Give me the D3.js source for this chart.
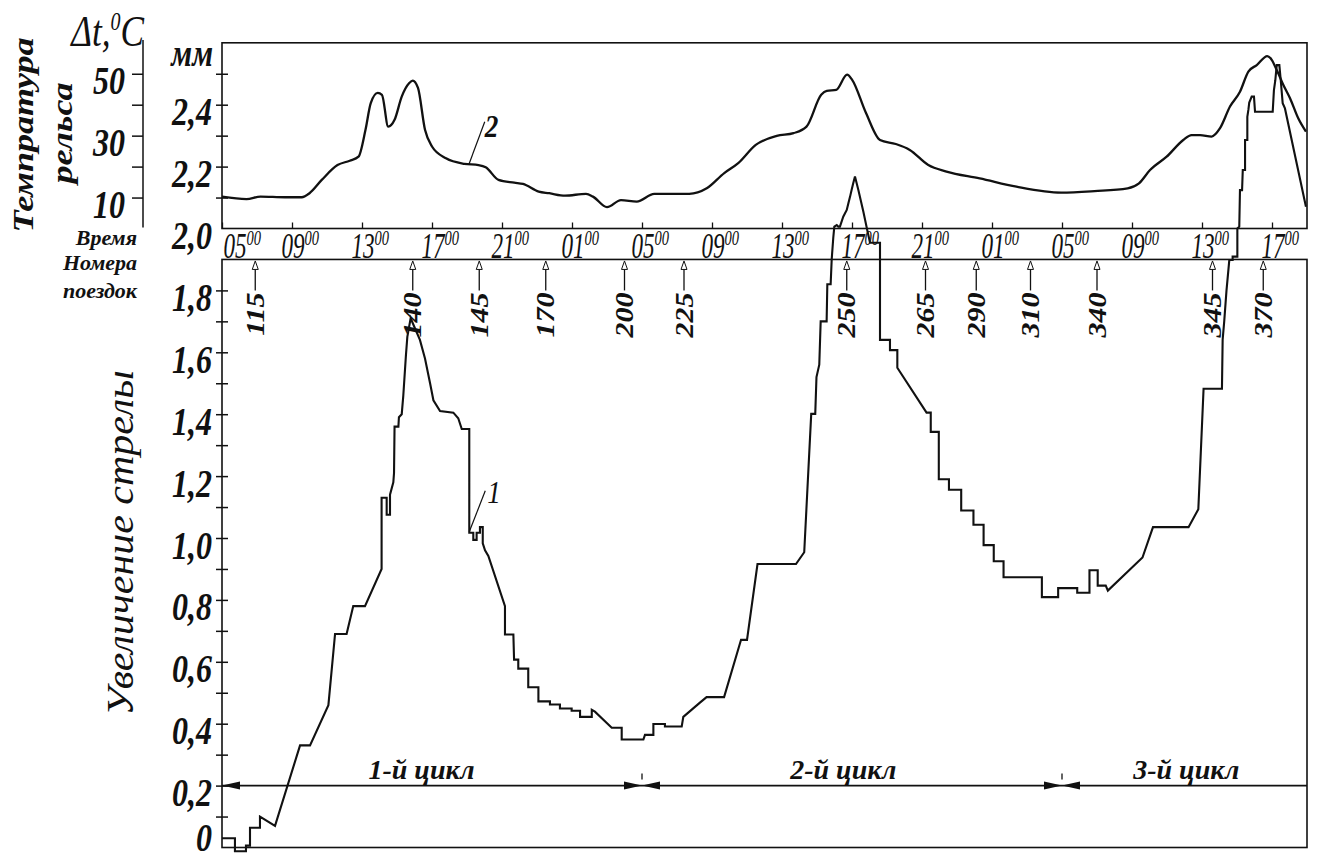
<!DOCTYPE html>
<html><head><meta charset="utf-8">
<script src="https://cdn.jsdelivr.net/npm/d3@7"></script>
<style>
body{margin:0;background:#fff;}
svg, svg text, svg tspan{font-family:"Liberation Serif","Tinos","Times New Roman","Nimbus Roman","DejaVu Serif",serif !important;font-style:italic;}
svg text{fill:#111;}
</style></head><body>
<svg id="chart" width="1319" height="863" font-family="Liberation Serif, serif"></svg>
<script>
// ---------- DATA ----------
const timeTickHours = [0,4,8,12,16,20,24,28,32,36,40,44,48,52,56,60];
const timeTickLabels = ["05","09","13","17","21","01","05","09","13","17","21","01","05","09","13","17"];
const mmTickValues = [0.1,0.2,0.3,0.4,0.5,0.6,0.7,0.8,0.9,1.0,1.1,1.2,1.3,1.4,1.5,1.6,1.7,1.8,2.1,2.2,2.3,2.4,2.5];
const mmLabelValues = [0,0.2,0.4,0.6,0.8,1.0,1.2,1.4,1.6,1.8,2.0,2.2,2.4];
const tempTickValues = [10,20,30,40,50];
const tempLabelValues = [10,30,50];
const trainNumbers = [115,140,145,170,200,225,250,265,290,310,340,345,370];
const trainHours = [1.9,10.9,14.7,18.5,23.0,26.4,35.7,40.2,43.1,46.2,50.0,56.6,59.5];
const cycleNames = ["1-й цикл","2-й цикл","3-й цикл"];
const cycleBounds = [0,24,48,62];
const cycleLabelHours = [11.4,35.5,55.1];

// curve 2: rail temperature, °C
const tempHours = [0,1.4,2.2,3.6,4.56,5.0,5.7,6.6,7.3,7.8,8.2,8.5,8.9,9.14,9.5,9.86,10.27,10.7,10.9,11.2,11.6,12.0,12.8,13.85,14.66,15.07,15.8,16.7,17.2,18.1,18.7,19.6,20.8,21.2,22.0,22.8,23.7,24.7,25.7,26.7,27.7,28.7,29.5,30.5,31.7,32.66,33.4,34.24,34.56,35.1,35.72,36.0,36.8,37.6,38.5,39.3,40.36,41.4,43.3,45.4,47.96,49.86,51.75,52.4,53.03,53.98,54.93,55.4,55.89,56.55,57.03,57.6,58.17,58.65,59.13,59.73,59.92,60.27,60.65,61.03,61.5,61.94];
const tempValues = [10.3,9.5,10.3,10.1,10.1,11.4,15.7,20.5,21.9,23.2,31.9,40.5,43.8,43.2,32.9,35.1,42.6,47.0,47.8,45.4,31.9,26.5,22.7,20.9,20.5,19.8,15.7,14.8,14.4,11.9,11.4,10.6,11.2,10.3,6.9,9.2,8.7,11.2,11.2,11.2,13.0,17.9,21.1,27.0,29.9,30.8,32.9,43.2,44.5,44.8,49.7,48.1,37.3,28.6,27.3,25.4,20.5,18.4,16.2,13.5,11.6,12.1,13.0,14.6,18.9,23.2,28.6,30.2,30.2,29.7,32.4,39.4,44.2,50.7,52.8,55.7,55.0,51.2,46.4,42.1,35.6,31.3];

// curve 1: increase of the versine, mm
const strelaHours = [0.00,0.74,0.74,1.37,1.37,1.60,1.60,2.17,2.17,3.03,4.46,5.03,6.08,6.46,7.12,7.50,8.17,9.12,9.12,9.41,9.41,9.60,9.60,9.79,9.83,9.86,10.08,10.11,10.27,10.36,10.51,10.59,10.78,11.31,11.60,11.89,12.08,12.46,13.22,13.50,13.70,14.13,14.13,14.36,14.36,14.55,14.55,14.74,14.74,14.90,14.90,15.03,15.22,16.17,16.17,16.65,16.69,16.93,16.93,17.50,17.50,18.08,18.08,18.74,18.74,19.31,19.31,19.98,19.98,20.46,20.46,21.13,21.13,21.31,22.27,22.84,22.84,24.08,24.17,24.65,24.65,25.31,25.31,26.27,26.36,27.31,27.69,28.69,29.66,30.00,30.60,32.80,33.27,33.67,33.90,33.97,34.13,34.21,34.55,34.59,34.78,34.84,34.93,34.99,35.13,35.22,35.31,35.50,35.70,35.79,35.89,35.98,36.07,36.17,36.36,36.65,36.87,37.03,37.60,37.60,38.17,38.17,38.59,38.59,40.26,40.50,40.50,40.96,40.96,41.54,41.54,42.24,42.24,42.94,42.94,43.52,43.52,44.10,44.10,44.66,44.66,46.85,46.85,47.78,47.78,48.87,48.87,49.57,49.57,50.04,50.04,50.50,50.62,52.60,53.20,55.23,55.79,56.09,57.14,57.18,57.27,57.40,57.56,57.75,57.75,58.02,58.02,58.13,58.17,58.29,58.33,58.46,58.46,58.59,58.59,58.65,58.70,58.84,58.97,59.03,60.04,60.11,60.19,60.27,60.42,60.50,60.61,60.74,61.94];
const strelaValues = [0.03,0.03,-0.012,-0.012,0.006,0.006,0.064,0.064,0.10,0.07,0.33,0.33,0.46,0.69,0.69,0.78,0.78,0.90,1.13,1.13,1.075,1.075,1.14,1.18,1.21,1.36,1.36,1.39,1.40,1.46,1.59,1.65,1.71,1.64,1.58,1.50,1.445,1.41,1.405,1.387,1.352,1.352,1.017,1.017,0.994,0.994,1.017,1.017,1.035,1.035,0.983,0.96,0.942,0.78,0.688,0.688,0.607,0.607,0.578,0.578,0.518,0.518,0.472,0.472,0.462,0.462,0.449,0.449,0.442,0.442,0.422,0.422,0.445,0.439,0.387,0.387,0.349,0.349,0.364,0.364,0.399,0.399,0.391,0.391,0.422,0.468,0.486,0.486,0.671,0.671,0.916,0.916,0.954,1.401,1.401,1.52,1.56,1.70,1.70,1.82,1.82,1.90,1.97,2.006,2.011,2.006,2.006,2.038,2.06,2.081,2.103,2.125,2.146,2.168,2.125,2.054,1.995,1.954,1.954,1.64,1.64,1.607,1.607,1.55,1.405,1.405,1.343,1.343,1.19,1.19,1.156,1.156,1.089,1.089,1.043,1.043,0.977,0.977,0.925,0.925,0.873,0.873,0.809,0.809,0.838,0.838,0.823,0.823,0.896,0.896,0.846,0.846,0.83,0.937,1.035,1.035,1.093,1.482,1.482,1.641,1.70,1.80,1.898,1.898,1.909,1.909,2.0,2.006,2.124,2.124,2.189,2.189,2.286,2.286,2.361,2.383,2.407,2.426,2.426,2.377,2.377,2.447,2.479,2.528,2.528,2.479,2.405,2.388,2.07];

// ---------- SCALES ----------
const svg = d3.select("#chart");
const x = d3.scaleLinear().domain([0, 62]).range([222, 1307]);
const y = d3.scaleLinear().domain([0, 2.6]).range([847.5, 42.8]);
const yT = d3.scaleLinear().domain([0, 60]).range([y(2.0), y(2.6)]);
const INK = "#111";
const SERIF = '"Liberation Serif","Tinos","Times New Roman","Nimbus Roman","DejaVu Serif",serif';

// ---------- FRAMES ----------
svg.append("rect").attr("x", x(0)).attr("y", y(2.6)).attr("width", x(62) - x(0)).attr("height", y(2.0) - y(2.6))
  .attr("fill", "none").attr("stroke", INK).attr("stroke-width", 1.6);
svg.append("rect").attr("x", x(0)).attr("y", y(1.9)).attr("width", x(62) - x(0)).attr("height", y(0) - y(1.9))
  .attr("fill", "none").attr("stroke", INK).attr("stroke-width", 1.6);

// ---------- CURVES ----------
const tempData = tempHours.map((h, i) => [h, tempValues[i]]);
svg.append("path").datum(tempData)
  .attr("fill", "none").attr("stroke", INK).attr("stroke-width", 2.3).attr("stroke-linejoin", "round")
  .attr("d", d3.line().x(d => x(d[0])).y(d => yT(d[1])).curve(d3.curveMonotoneX));

const strelaData = strelaHours.map((h, i) => [h, strelaValues[i]]);
svg.append("path").datum(strelaData)
  .attr("fill", "none").attr("stroke", INK).attr("stroke-width", 2.1).attr("stroke-linejoin", "miter")
  .attr("d", d3.line().x(d => x(d[0])).y(d => y(d[1])));

// ---------- LEFT mm AXIS ----------
const fmt = d => d === 0 ? "0" : d.toFixed(1).replace(".", ",");
const gTicks = svg.append("g").attr("transform", `translate(${x(0)},0)`)
  .call(d3.axisLeft(y).tickValues(mmTickValues).tickSize(6).tickFormat(""));
gTicks.select(".domain").remove();
gTicks.selectAll(".tick line").attr("x1", -6).attr("x2", 6).attr("stroke", INK).attr("stroke-width", 1.5);

const gLab = svg.append("g").attr("transform", `translate(${x(0)},0)`)
  .call(d3.axisLeft(y).tickValues(mmLabelValues).tickSize(0).tickFormat(fmt));
gLab.attr("font-family", SERIF);
gLab.select(".domain").remove();
gLab.selectAll(".tick text")
  .attr("x", -10 / 0.8).attr("dy", d => d === 0 ? "0.08em" : "0.5em")
  .attr("transform", "scale(0.8,1)")
  .style("font-size", "40px").style("font-weight", "bold").attr("fill", INK);

svg.append("text").attr("transform", `translate(213,66) scale(0.8,1)`).attr("text-anchor", "end")
  .style("font-size", "38px").style("font-weight", "bold").text("мм");

// ---------- TEMPERATURE AXIS ----------
const gT = svg.append("g").attr("transform", "translate(143,0)")
  .call(d3.axisLeft(yT).tickValues(tempTickValues).tickSizeInner(11).tickSizeOuter(0)
    .tickFormat(d => tempLabelValues.includes(d) ? d : ""));
gT.attr("font-family", SERIF);
gT.select(".domain").attr("stroke", INK).attr("stroke-width", 1.5).attr("d", `M0,${y(2.0) - 1}V40`);
gT.selectAll(".tick line").attr("stroke", INK).attr("stroke-width", 1.5);
gT.selectAll(".tick text").attr("x", -18 / 0.8).attr("dy", "0.5em").attr("transform", "scale(0.8,1)")
  .style("font-size", "40px").style("font-weight", "bold").attr("fill", INK);

const dT = svg.append("text").attr("transform", "translate(144,46) scale(0.8,1)").attr("text-anchor", "end")
  .style("font-size", "44px");
dT.append("tspan").text("Δt,");
dT.append("tspan").attr("dy", -16).style("font-size", "25px").text("0");
dT.append("tspan").attr("dy", 16).text("C");

// ---------- TIME AXIS ----------
const TS = 0.66;
const gX = svg.append("g").attr("transform", `translate(0,${y(2.0)})`)
  .call(d3.axisTop(x).tickValues(timeTickHours).tickSize(6).tickSizeOuter(0).tickFormat(""));
gX.attr("font-family", SERIF);
gX.select(".domain").remove();
gX.selectAll(".tick line").attr("stroke", INK).attr("stroke-width", 1.3);
gX.selectAll(".tick").each(function (d, i) {
  const t = d3.select(this).append("text")
    .attr("text-anchor", "start").attr("fill", INK)
    .attr("transform", `scale(${TS},1)`)
    .attr("x", (d === 0 ? 1 : -11) / TS).attr("y", 29)
    .style("font-size", "35px");
  t.append("tspan").text(timeTickLabels[i]);
  t.append("tspan").attr("dy", -13).style("font-size", "22px").text("00");
});

// ---------- TRAIN NUMBERS ----------
const gTr = svg.append("g");
trainNumbers.forEach((n, i) => {
  const g = gTr.append("g").attr("transform", `translate(${x(trainHours[i])},${y(1.9)})`);
  g.append("path").attr("d", "M0,1.5L-3,10L3,10Z").attr("fill", "#fff").attr("stroke", INK).attr("stroke-width", 1);
  g.append("line").attr("x1", 0).attr("x2", 0).attr("y1", 10).attr("y2", 31).attr("stroke", INK).attr("stroke-width", 1.3);
  g.append("text").attr("transform", "translate(0,33) scale(0.85,1) rotate(-90)")
    .attr("text-anchor", "end").attr("dy", "0.34em").style("font-size", "30px").style("font-weight", "bold").text(n);
});

// ---------- CYCLES ----------
const yc = y(0.2);
const gC = svg.append("g");
gC.append("line").attr("x1", x(0)).attr("x2", x(62)).attr("y1", yc).attr("y2", yc)
  .attr("stroke", INK).attr("stroke-width", 1.8);
cycleNames.forEach((name, i) => {
  const a = x(cycleBounds[i]), b = x(cycleBounds[i + 1]);
  gC.append("path").attr("d", `M${a},${yc}L${a + 18},${yc - 4}L${a + 18},${yc + 4}Z`).attr("fill", INK);
  if (i < cycleNames.length - 1) {
    gC.append("path").attr("d", `M${b},${yc}L${b - 18},${yc - 4}L${b - 18},${yc + 4}Z`).attr("fill", INK);
    gC.append("line").attr("x1", b).attr("x2", b).attr("y1", yc - 12).attr("y2", yc - 6)
      .attr("stroke", INK).attr("stroke-width", 1.3);
  }
  gC.append("text").attr("x", x(cycleLabelHours[i])).attr("y", yc - 7).attr("text-anchor", "middle")
    .style("font-size", "28px").style("font-weight", "bold").text(name);
});

// ---------- CURVE LABELS ----------
const p2 = [x(14.1), yT(20.6)], e2 = [p2[0] + 16, p2[1] - 43];
svg.append("line").attr("x1", p2[0]).attr("y1", p2[1]).attr("x2", e2[0]).attr("y2", e2[1]).attr("stroke", INK).attr("stroke-width", 1.2);
svg.append("text").attr("transform", `translate(${e2[0]},${e2[1] + 15}) scale(0.85,1)`)
  .style("font-size", "32px").style("font-weight", "bold").text("2");
const p1 = [x(14.13), y(1.02)], e1 = [p1[0] + 16, p1[1] - 41];
svg.append("line").attr("x1", p1[0]).attr("y1", p1[1]).attr("x2", e1[0]).attr("y2", e1[1]).attr("stroke", INK).attr("stroke-width", 1.2);
svg.append("text").attr("transform", `translate(${e1[0] + 2},${e1[1] + 12}) scale(0.85,1)`)
  .style("font-size", "32px").text("1");

// ---------- SIDE TITLES ----------
function rotText(txt, cx, cy, size, sx, weight) {
  svg.append("text").attr("transform", `translate(${cx},${cy}) scale(${sx},1) rotate(-90)`)
    .attr("text-anchor", "middle").attr("dy", "0.3em").style("font-size", size + "px")
    .style("font-weight", weight || "normal").text(txt);
}
rotText("Темпратура", 24, 135, 36, 0.8, "bold");
rotText("рельса", 63, 133, 36, 0.8, "bold");
rotText("Увеличение стрелы", 122, 543, 42, 0.88, "normal");

[["Время", 245], ["Номера", 270], ["поездок", 298]].forEach(([t, yy]) => {
  svg.append("text").attr("x", 137).attr("y", yy).attr("text-anchor", "end")
    .style("font-size", "22px").style("font-weight", "bold").text(t);
});
</script>
</body></html>
